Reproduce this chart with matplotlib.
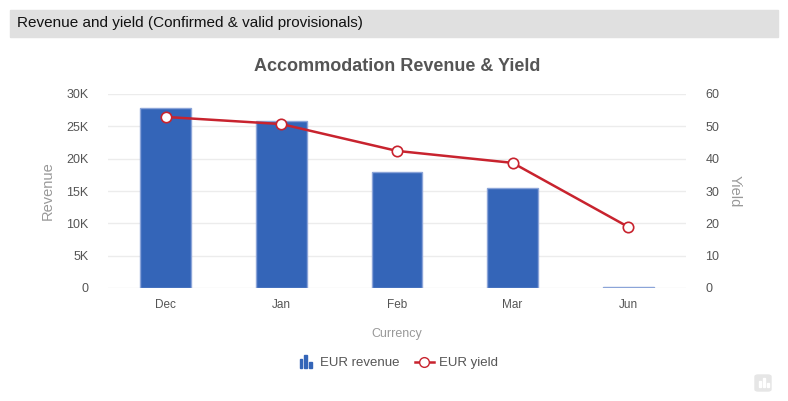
import matplotlib.pyplot as plt
import matplotlib.patches as mpatches
from matplotlib.lines import Line2D
from matplotlib.legend_handler import HandlerBase
from matplotlib.ticker import FuncFormatter

plt.rcParams["font.family"] = ["Liberation Sans", "DejaVu Sans"]

# --- data ---
months = ["Dec", "Jan", "Feb", "Mar", "Jun"]
revenue = [27800, 25750, 17900, 15450, 200]
yield_eur = [52.9, 50.7, 42.4, 38.7, 18.9]

BAR = "#3465b8"
BAR_EDGE = "#8ba4d8"
LINE = "#c8232e"
GRID = "#ececec"
TXT = "#555555"


class BarIconHandler(HandlerBase):
    # three little bars, like the legend symbol of the original
    def create_artists(self, legend, orig, xd, yd, w, h, fontsize, trans):
        bw = w / 7.0
        step = w / 4.0
        heights = [0.7, 1.0, 0.45]
        arts = []
        for i, hh in enumerate(heights):
            r = mpatches.Rectangle((xd + w * 0.2 + i * step, yd - h * 0.2), bw, h * 1.35 * hh,
                                   color=BAR, transform=trans)
            arts.append(r)
        return arts


fig = plt.figure(figsize=(7.88, 4.01), dpi=100)

# header band
fig.patches.append(mpatches.Rectangle((10 / 788, 1 - 37 / 401), 768 / 788, 27 / 401,
                                      transform=fig.transFigure, color="#e0e0e0", zorder=0))
fig.text(17 / 788, 1 - 23 / 401, "Revenue and yield (Confirmed & valid provisionals)",
         fontsize=11, color="#111111", va="center", ha="left")

ax = fig.add_axes([108 / 788, 1 - 288 / 401, 578 / 788, 194 / 401])
x = list(range(len(months)))
ax.bar(x, revenue, width=0.44, color=BAR, edgecolor=BAR_EDGE, linewidth=1, zorder=2)
ax.set_xlim(-0.5, len(months) - 0.5)
ax.set_ylim(0, 30000)
ax.set_yticks(range(0, 30001, 5000))
ax.yaxis.set_major_formatter(FuncFormatter(lambda v, p: "0" if v == 0 else f"{int(v/1000)}K"))
ax.set_xticks(x)
ax.set_xticklabels(months)
ax.grid(axis="y", color=GRID, linewidth=1, zorder=0)
for s in ax.spines.values():
    s.set_visible(False)
ax.tick_params(axis="both", length=0, colors=TXT)
ax.tick_params(axis="y", labelsize=9, pad=14)
ax.tick_params(axis="x", labelsize=8.5, pad=8)
ax.set_ylabel("Revenue", color="#999999", fontsize=10.5, labelpad=8)
ax.set_xlabel("Currency", color="#999999", fontsize=9, labelpad=12)

ax2 = ax.twinx()
ax2.plot(x, yield_eur, color=LINE, linewidth=1.8, marker="o", markersize=7.5,
         markerfacecolor="white", markeredgecolor=LINE, markeredgewidth=1.2, zorder=3)
ax2.set_ylim(0, 60)
ax2.set_yticks(range(0, 61, 10))
for s in ax2.spines.values():
    s.set_visible(False)
ax2.tick_params(axis="y", length=0, colors=TXT, labelsize=9, pad=14)
ax2.set_ylabel("Yield", color="#999999", fontsize=10.5, rotation=270, labelpad=16)

fig.suptitle("Accommodation Revenue & Yield", x=397 / 788, y=1 - 58 / 401,
             fontsize=13, fontweight="bold", color="#555555", va="top")

# legend
bar_handle = mpatches.Patch(color=BAR, label="EUR revenue")
line_handle = Line2D([0], [0], color=LINE, marker="o", markerfacecolor="white",
                     markeredgecolor=LINE, markersize=7, linewidth=1.8, label="EUR yield")
fig.legend(handles=[bar_handle, line_handle], loc="center",
           bbox_to_anchor=(397 / 788, 1 - 363 / 401),
           handler_map={bar_handle: BarIconHandler()},
           ncol=2, frameon=False, fontsize=9.5, labelcolor=TXT, handlelength=1.4,
           columnspacing=1.2, handletextpad=0.4)

# small export icon bottom-right
fig.patches.append(mpatches.FancyBboxPatch((755 / 788, 1 - 391 / 401), 16 / 788, 16 / 401,
                                           boxstyle="round,pad=0,rounding_size=0.004",
                                           transform=fig.transFigure, color="#e6e6e6"))
for bx, bh in [(759, 6), (763, 9), (767, 4)]:
    fig.patches.append(mpatches.Rectangle((bx / 788, 1 - 387 / 401), 2 / 788, bh / 401,
                                          transform=fig.transFigure, color="white"))

fig.savefig("out.png", dpi=100)
